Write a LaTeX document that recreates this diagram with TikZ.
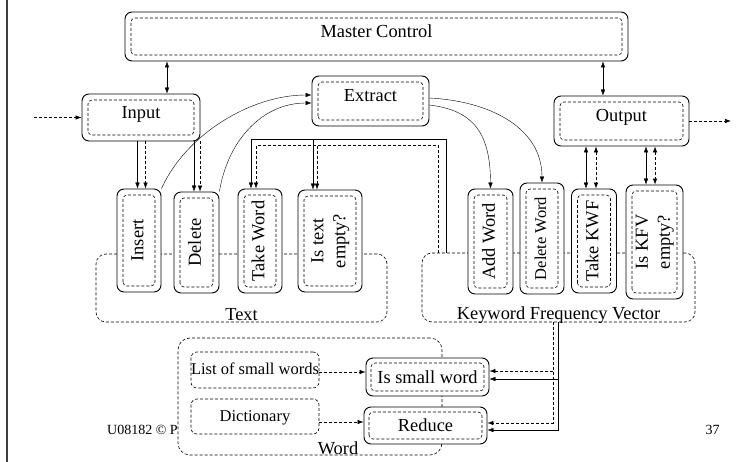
\documentclass[tikz,border=0pt]{standalone}
\usepackage{fontspec}
\setmainfont{Liberation Serif}
\usetikzlibrary{arrows.meta,calc}

\begin{document}
\begin{tikzpicture}[x=1pt,y=-1pt,
    >={Latex[length=6pt,width=4.5pt]},
    lbl/.style={font=\fontsize{18.4}{22}\selectfont},
    small/.style={font=\fontsize{16.5}{20}\selectfont},
    thindash/.style={dash pattern=on 3pt off 2pt,line width=0.6pt},
    opbox/.style={draw,line width=0.9pt,rounded corners=7pt,fill=white,inner sep=0pt,lbl,
      path picture={\draw[thindash,rounded corners=4pt]
        ([shift={(#1,#1)}]path picture bounding box.south west) rectangle
        ([shift={(-#1,-#1)}]path picture bounding box.north east);}},
    opbox/.default=6pt,
    wide/.style={text height=7pt,text depth=5pt},
    grpbox/.style={draw,thindash,rounded corners=10pt,fill=white},
    storebox/.style={draw,thindash,rounded corners=6pt,small,inner sep=0pt,
      text height=13pt,text depth=4pt},
  ]
    \useasboundingbox (0,0) rectangle (742,462);

    % slide edge and footer
    \draw[line width=1.5pt,black!75] (7,0) -- (7,462);
    \node[font=\fontsize{14}{16}\selectfont,anchor=base west,inner sep=0pt] (foot) at (107,435) {U08182 © P};
    \node[font=\fontsize{14}{16}\selectfont,anchor=base,inner sep=0pt] (pageno) at (712.5,435) {37};

    % groups
    \node[grpbox,minimum width=291pt,minimum height=68pt] (textgrp) at (241.5,288) {};
    \node[lbl,anchor=base,inner sep=0pt] at ([yshift=2pt]textgrp.south) {Text};
    \node[grpbox,minimum width=273pt,minimum height=69pt] (kfvgrp) at (558.5,287.5) {};
    \node[lbl,anchor=base,inner sep=0pt] at ([yshift=3pt]kfvgrp.south) {Keyword Frequency Vector};
    \node[grpbox,rounded corners=12pt,minimum width=264pt,minimum height=117pt] (wordgrp) at (310,396.5) {};
    \node[lbl,anchor=base,inner sep=0pt] at ([xshift=28pt,yshift=1pt]wordgrp.south) {Word};

    % top row
    \node[opbox,wide,minimum width=503pt,minimum height=49pt] (master) at (376.5,36.5) {Master Control};
    \node[opbox,wide,minimum width=118pt,minimum height=47pt] (input) at (141,117.5) {Input};
    \node[opbox,wide,minimum width=117pt,minimum height=50pt] (extract) at (370.5,101) {Extract};
    \node[opbox,wide,minimum width=135pt,minimum height=50pt] (output) at (621.5,121) {Output};

    % text operations
    \node[opbox,minimum width=44pt,minimum height=103pt] (insert) at (139,240.5) {\rotatebox{90}{\strut Insert}};
    \node[opbox,minimum width=45pt,minimum height=101pt] (delete) at (196.5,242.5) {\rotatebox{90}{\strut Delete}};
    \node[opbox,minimum width=44pt,minimum height=104pt] (takeword) at (260,241) {\rotatebox{90}{\strut Take Word}};
    \node[opbox,minimum width=64pt,minimum height=102pt] (istext) at (330,241)
      {\rotatebox{90}{\begin{tabular}{@{}c@{}}Is text\\empty?\end{tabular}}};

    % vector operations
    \node[opbox,minimum width=45pt,minimum height=105pt] (addword) at (490.5,241.5) {\rotatebox{90}{\strut Add Word}};
    \node[opbox,small,minimum width=44pt,minimum height=111pt] (deleteword) at (542,238.5) {\rotatebox{90}{\strut Delete Word}};
    \node[opbox,minimum width=45pt,minimum height=104pt] (takekwf) at (594,241) {\rotatebox{90}{\strut Take KWF}};
    \node[opbox,minimum width=57pt,minimum height=114pt] (iskfv) at (654.5,242)
      {\rotatebox{90}{\begin{tabular}{@{}c@{}}Is KFV\\empty?\end{tabular}}};

    % word operations
    \node[storebox,minimum width=128pt,minimum height=36pt] (smalllist) at (255,370) {List of small words};
    \node[storebox,minimum width=128pt,minimum height=35pt] (dict) at (255,416.5) {Dictionary};
    \node[opbox=5pt,minimum width=123pt,minimum height=38pt] (issmall) at (427.5,377) {Is small word};
    \node[opbox=5pt,minimum width=123pt,minimum height=37pt] (reduce) at (425.5,425.5) {Reduce};

    % control links
    \draw[<->] ([xshift=26pt]input.north) -- ([xshift=26pt]input.north |- master.south);
    \draw[<->] ([xshift=-18.5pt]output.north) -- ([xshift=-18.5pt]output.north |- master.south);
    \coordinate (src) at (34,117.5);
    \coordinate (sink) at (731,121);
    \draw[->,thindash] (src) -- (input.west);
    \draw[->,thindash] (output.east) -- (sink);

    % input to text
    \draw[->] ([xshift=-1.5pt]insert.north |- input.south) -- ([xshift=-1.5pt]insert.north);
    \draw[->,thindash] ([xshift=6.5pt]insert.north |- input.south) -- ([xshift=6.5pt]insert.north);
    \draw[->] ([xshift=-2.5pt]delete.north |- input.south) -- ([xshift=-2.5pt]delete.north);
    \draw[->,thindash] ([xshift=3.5pt]delete.north |- input.south) -- ([xshift=3.5pt]delete.north);

    % text to extract, extract to vector
    \draw[->] (insert.north east) .. controls +(25,-55) and +(-60,0) .. ([yshift=6pt]extract.west);
    \draw[->] (delete.north east) .. controls +(8,-50) and +(-50,0) .. ([yshift=-2pt]extract.west);
    \draw[->] ([yshift=-4pt]extract.east) .. controls +(40,5) and +(0,-60) .. (addword.north);
    \draw[->] ([yshift=3pt]extract.east) .. controls +(60,3) and +(0,-55) .. (deleteword.north);

    % vector back to text
    \draw[->] ([xshift=24pt]kfvgrp.north west) -- ++(0,-113) -| ([xshift=-9pt]takeword.north);
    \draw[->] ([xshift=-17pt]istext.north) ++(0,-50) -- ([xshift=-17pt]istext.north);
    \draw[->,thindash] ([xshift=17pt]kfvgrp.north west) -- ++(0,-107) -| ([xshift=-4pt]takeword.north);
    \draw[->,thindash] ([xshift=-13pt]istext.north) ++(0,-44) -- ([xshift=-13pt]istext.north);

    % output links
    \draw[<->] ([xshift=-8pt]takekwf.north |- output.south) -- ([xshift=-8pt]takekwf.north);
    \draw[<->,thindash] ([xshift=2pt]takekwf.north |- output.south) -- ([xshift=2pt]takekwf.north);
    \draw[<->] ([xshift=-8.5pt]iskfv.north |- output.south) -- ([xshift=-8.5pt]iskfv.north);
    \draw[<->,thindash] ([xshift=0.5pt]iskfv.north |- output.south) -- ([xshift=0.5pt]iskfv.north);

    % vector to word
    \coordinate (drops) at (kfvgrp.south);
    \coordinate (dropd) at ([xshift=-5.5pt]kfvgrp.south);
    \draw[->] (drops) |- ([yshift=-4.5pt]reduce.east);
    \draw[->] ([yshift=-2pt]issmall.east -| drops) -- ([yshift=-2pt]issmall.east);
    \draw[->,thindash] (dropd) |- ([yshift=2.5pt]reduce.east);
    \draw[->,thindash] ([yshift=6pt]issmall.east -| dropd) -- ([yshift=6pt]issmall.east);

    % stores to word operations
    \draw[->,thindash] ([yshift=-2pt]smalllist.east) -- ([yshift=-2pt]smalllist.east -| issmall.west);
    \draw[->,thindash] ([yshift=-5.5pt]dict.east) -- ([yshift=-5.5pt]dict.east -| reduce.west);
  \end{tikzpicture}
\end{document}
